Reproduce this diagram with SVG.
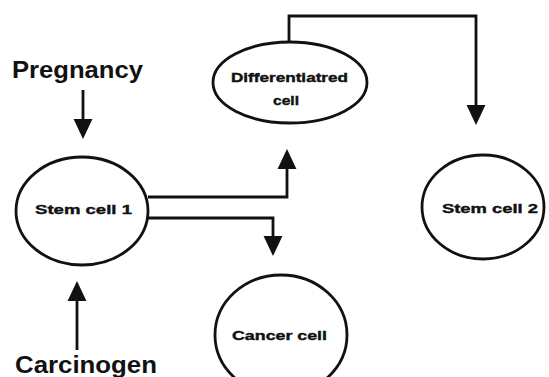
<svg xmlns="http://www.w3.org/2000/svg" width="549" height="377" viewBox="0 0 549 377">
<style>
.node ellipse{fill:none;stroke:#111;stroke-width:2.8}
.lbl{font-family:"Liberation Sans",Arial,sans-serif;font-weight:bold;font-size:13px;fill:#111;stroke:#111;stroke-width:0.4}
.big{font-family:"Liberation Sans",Arial,sans-serif;font-weight:bold;font-size:23px;fill:#111}
.conn path{fill:none;stroke:#111;stroke-width:2.8;marker-end:url(#ah)}
</style>
<defs>
<marker id="ah" markerUnits="userSpaceOnUse" markerWidth="20" markerHeight="20" viewBox="0 0 19 18" refX="1" refY="9" orient="auto">
<path d="M0,0 L19,9 L0,18 Z" fill="#111"/>
</marker>
</defs>
<rect width="549" height="377" fill="#fff"/>
<g id="pregnancy"><text class="big" x="12" y="78" textLength="131" lengthAdjust="spacingAndGlyphs">Pregnancy</text></g>
<g id="carcinogen"><text class="big" x="15" y="373" textLength="142" lengthAdjust="spacingAndGlyphs">Carcinogen</text></g>
<g id="stem1" class="node">
<ellipse cx="82" cy="211" rx="66" ry="54"/>
<text class="lbl" x="35" y="213.5" textLength="97" lengthAdjust="spacingAndGlyphs">Stem cell 1</text>
</g>
<g id="diff" class="node">
<ellipse cx="290" cy="82.5" rx="77" ry="40.5"/>
<text class="lbl" x="231" y="82" textLength="117" lengthAdjust="spacingAndGlyphs">Differentiatred</text>
<text class="lbl" x="273" y="104.5" textLength="26" lengthAdjust="spacingAndGlyphs">cell</text>
</g>
<g id="stem2" class="node">
<ellipse cx="483" cy="207" rx="61" ry="52"/>
<text class="lbl" x="442" y="212.5" textLength="96" lengthAdjust="spacingAndGlyphs">Stem cell 2</text>
</g>
<g id="cancer" class="node">
<ellipse cx="281" cy="335" rx="66" ry="60"/>
<text class="lbl" x="232" y="339.5" textLength="95" lengthAdjust="spacingAndGlyphs">Cancer cell</text>
</g>
<g id="connectors" class="conn">
<path d="M83,90 V120"/>
<path d="M77,350 V300"/>
<path d="M148,197 H287 V168"/>
<path d="M148,218 H273 V237"/>
<path d="M289,42 V16 H476 V106"/>
</g>
</svg>
